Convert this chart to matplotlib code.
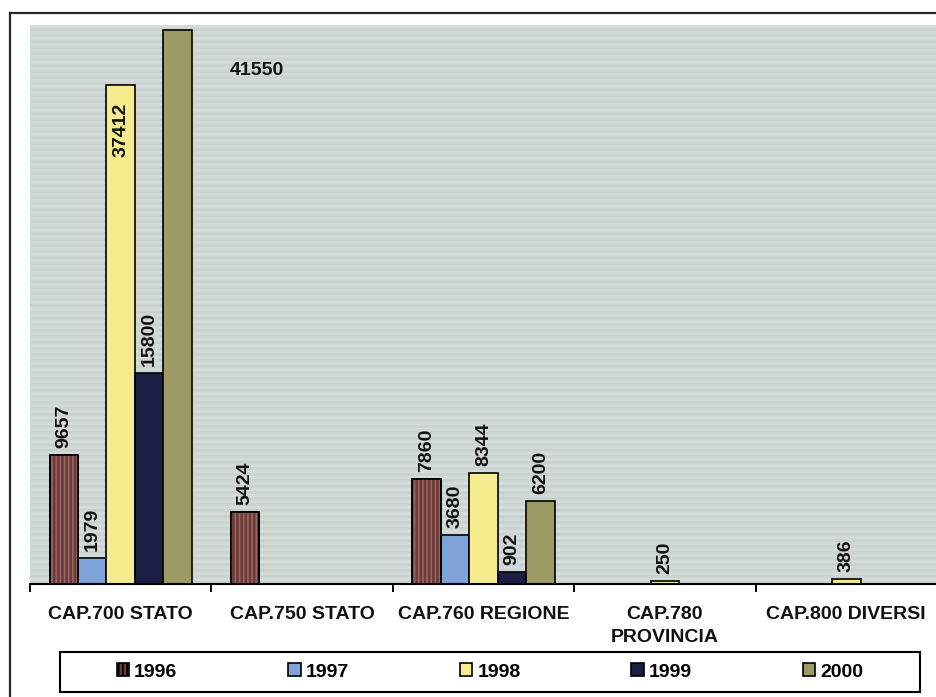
import numpy as np
import matplotlib
matplotlib.use("Agg")
import matplotlib.pyplot as plt
from matplotlib.lines import Line2D
from matplotlib.patches import Patch, Rectangle

plt.rcParams["font.family"] = ["Liberation Sans", "DejaVu Sans"]
plt.rcParams["font.weight"] = "bold"
plt.rcParams["hatch.linewidth"] = 1.2

categories = ["CAP.700 STATO", "CAP.750 STATO", "CAP.760 REGIONE",
              "CAP.780\nPROVINCIA", "CAP.800 DIVERSI"]
years = ["1996", "1997", "1998", "1999", "2000"]

v1996 = [9657, 5424, 7860, 0, 0]
v1997 = [1979, 0, 3680, 0, 0]
v1998 = [37412, 0, 8344, 250, 386]
v1999 = [15800, 0, 902, 0, 0]
v2000 = [41550, 0, 6200, 0, 0]
series = [v1996, v1997, v1998, v1999, v2000]

colors = ["#6b3a39", "#7fa3d6", "#f6ec8e", "#1b1f45", "#9d9a63"]
STRIPE = "#976663"
BG = "#cbd3d0"
FS = 14

W, H, DPI = 937, 697, 100
fig = plt.figure(figsize=(W / DPI, H / DPI), dpi=DPI, facecolor="white")

# plot area in pixel terms: left 30, right 937, top 25, baseline 584
ax = fig.add_axes([30 / W, (H - 584) / H, 907 / W, (584 - 25) / H])
ax.set_facecolor(BG)

# scanned-paper stripe texture behind the bars
rows = 186
base = np.array(matplotlib.colors.to_rgb(BG))
stripes = np.tile(base, (rows, 1, 1))
stripes[::2] = np.clip(base + 0.035, 0, 1)
ax.imshow(stripes, extent=(0, 1, 0, 1), transform=ax.transAxes,
          aspect="auto", zorder=0, interpolation="nearest")

x = np.arange(len(categories))
bw = 0.157
offsets = (np.arange(len(years)) - 2) * bw

for i, (vals, col) in enumerate(zip(series, colors)):
    xs = x + offsets[i]
    ax.bar(xs, vals, bw, color=col, edgecolor="black", linewidth=1.2, zorder=2)
    if i == 0:
        ax.bar(xs, vals, bw, fill=False, hatch="||||", edgecolor=STRIPE,
               linewidth=0, zorder=2.5)
        ax.bar(xs, vals, bw, fill=False, edgecolor="black", linewidth=1.2, zorder=3)
    for xi, v in zip(xs, vals):
        if v <= 0:
            continue
        kw = dict(textcoords="offset points", fontsize=FS, fontweight="bold",
                  color="#111111", zorder=4)
        if v == 41550:
            # no room above: label pushed off to the right of the bar
            ax.annotate(str(v), (xi, v), xytext=(57, -29.5),
                        ha="center", va="center", **kw)
        elif v > 30000:
            # tall bar: label tucked inside, under the top edge
            ax.annotate(str(v), (xi, v), xytext=(0, -13),
                        ha="center", va="top", rotation=90, **kw)
        else:
            ax.annotate(str(v), (xi, v), xytext=(0, 5),
                        ha="center", va="bottom", rotation=90, **kw)

ax.set_xlim(-0.5, 4.5)
ax.set_ylim(0, 41925)
ax.set_yticks([])

ax.set_xticks(x)
ax.set_xticklabels(categories, fontsize=FS, fontweight="bold", color="#111111",
                   linespacing=1.45)
ax.tick_params(axis="x", which="major", length=0, pad=16)
ax.set_xticks(np.arange(-0.5, 4.6, 1.0), minor=True)
ax.tick_params(axis="x", which="minor", length=6, width=1.4, direction="out",
               color="black")

for side in ["top", "right", "left"]:
    ax.spines[side].set_visible(False)
ax.spines["bottom"].set_linewidth(1.5)
ax.spines["bottom"].set_zorder(5)

# legend box drawn separately, entries centred inside it
fig.add_artist(Rectangle((60 / W, (H - 692) / H), 860 / W, 40 / H,
                         transform=fig.transFigure, fill=False,
                         edgecolor="black", linewidth=1.5))
handles = []
for i, col in enumerate(colors):
    handles.append(Patch(facecolor=col, edgecolor="black", linewidth=1.2,
                         hatch="||||" if i == 0 else None))
fig.legend(handles, years, ncol=5, loc="center",
           bbox_to_anchor=(490 / W, (H - 672) / H), frameon=False,
           handlelength=0.65, handleheight=0.65, handletextpad=0.25,
           columnspacing=5.7, borderaxespad=0,
           prop={"weight": "bold", "size": FS})

# outer chart frame (runs off the right and bottom edges)
fig.add_artist(Line2D([10 / W, 1.0], [1 - 13 / H, 1 - 13 / H],
                      transform=fig.transFigure, color="#2a2a2a", linewidth=1.6))
fig.add_artist(Line2D([10 / W, 10 / W], [0, 1 - 13 / H],
                      transform=fig.transFigure, color="#2a2a2a", linewidth=1.6))

fig.savefig("out.png", dpi=DPI, facecolor="white")
